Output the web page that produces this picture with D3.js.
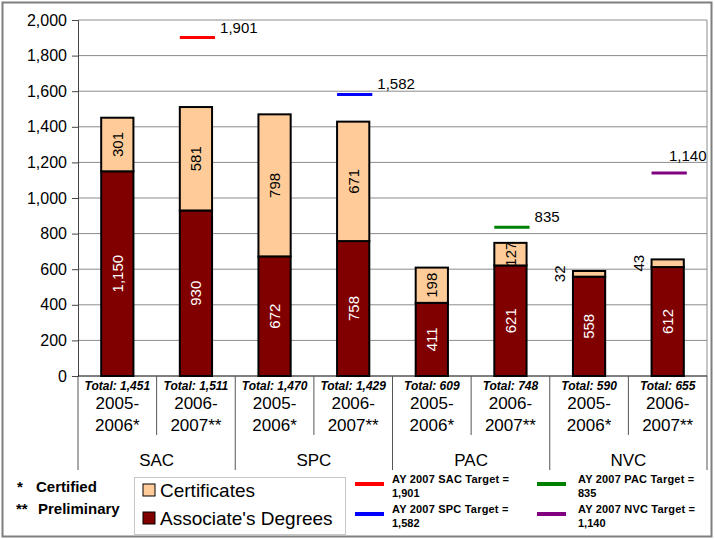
<!DOCTYPE html>
<html>
<head>
<meta charset="utf-8">
<script src="https://cdn.jsdelivr.net/npm/d3@7"></script>
<style>
  body { margin: 0; background: #fff; }
  svg { font-family: "Liberation Sans", Arial, sans-serif; }
</style>
</head>
<body>
<svg id="chart" width="715" height="539"></svg>
<script>
// data
const colleges = ["SAC", "SPC", "PAC", "NVC"];
const years = [["2005-", "2006*"], ["2006-", "2007**"]];
const associates = [1150, 930, 672, 758, 411, 621, 558, 612];
const certificates = [301, 581, 798, 671, 198, 127, 32, 43];
const totals = [1451, 1511, 1470, 1429, 609, 748, 590, 655];
const targets = [1901, 1582, 835, 1140];
const targetColors = ["#ff0000", "#0000ff", "#008000", "#800080"];
const yTicks = [0, 200, 400, 600, 800, 1000, 1200, 1400, 1600, 1800, 2000];

const svg = d3.select("#chart");
const fmt = d3.format(",");

const plotL = 78, plotR = 707, plotT = 20, plotB = 376;

const keys = d3.range(associates.length);
const x = d3.scaleBand().domain(keys).range([plotL, plotR])
    .paddingInner(0.59).paddingOuter(0.295);
const cell = d3.scaleBand().domain(keys).range([plotL, plotR]);
const y = d3.scaleLinear().domain([0, 2000]).range([plotB, plotT]);

// outer frame
svg.append("rect")
    .attr("x", 2.5).attr("y", 2.5).attr("width", 709).attr("height", 534)
    .attr("fill", "none").attr("stroke", "#7f7f7f").attr("stroke-width", 2);

// gridlines
svg.append("g")
    .selectAll("line")
    .data(yTicks.filter(d => d > 0))
    .join("line")
    .attr("x1", plotL).attr("x2", plotR)
    .attr("y1", d => y(d)).attr("y2", d => y(d))
    .attr("stroke", "#8c8c8c").attr("stroke-width", 1);

svg.append("line")
    .attr("x1", plotR).attr("x2", plotR).attr("y1", plotT).attr("y2", plotB)
    .attr("stroke", "#8c8c8c");

// y axis
const yAxis = svg.append("g")
    .attr("transform", `translate(${plotL},0)`)
    .call(d3.axisLeft(y).tickValues(yTicks).tickFormat(fmt).tickSize(6).tickPadding(5));
yAxis.select(".domain").attr("stroke", "#444");
yAxis.selectAll(".tick line").attr("stroke", "#444");
yAxis.selectAll(".tick text")
    .attr("font-size", 16).attr("fill", "#000")
    .attr("font-family", "Liberation Sans, Arial, sans-serif");

// stacked bars
const bars = svg.append("g");
bars.selectAll("rect.assoc")
    .data(keys)
    .join("rect")
    .attr("class", "assoc")
    .attr("x", i => x(i)).attr("width", x.bandwidth())
    .attr("y", i => y(associates[i]))
    .attr("height", i => y(0) - y(associates[i]))
    .attr("fill", "#800000").attr("stroke", "#000").attr("stroke-width", 2);

bars.selectAll("rect.cert")
    .data(keys)
    .join("rect")
    .attr("class", "cert")
    .attr("x", i => x(i)).attr("width", x.bandwidth())
    .attr("y", i => y(associates[i] + certificates[i]))
    .attr("height", i => y(associates[i]) - y(associates[i] + certificates[i]))
    .attr("fill", "#ffcc99").attr("stroke", "#000").attr("stroke-width", 2);

// value labels, rotated
const labels = svg.append("g").attr("font-size", 15);
labels.selectAll("text.assoc")
    .data(keys)
    .join("text")
    .attr("class", "assoc")
    .attr("transform", i => `translate(${x(i) + x.bandwidth() / 2},${y(associates[i] / 2)}) rotate(-90)`)
    .attr("text-anchor", "middle").attr("dy", "0.36em")
    .attr("fill", "#fff")
    .text(i => fmt(associates[i]));

labels.selectAll("text.cert")
    .data(keys)
    .join("text")
    .attr("class", "cert")
    .attr("transform", i => {
        const small = certificates[i] < 60;
        const cx = small ? x(i) - 13 : x(i) + x.bandwidth() / 2;
        return `translate(${cx},${y(associates[i] + certificates[i] / 2)}) rotate(-90)`;
    })
    .attr("text-anchor", "middle").attr("dy", "0.36em")
    .attr("fill", "#000")
    .text(i => fmt(certificates[i]));

// target markers
const tg = svg.append("g");
targets.forEach((t, k) => {
    const i = k * 2 + 1;
    const x0 = x(i), x1 = x(i) + x.bandwidth() + 3;
    tg.append("line")
        .attr("x1", x0).attr("x2", x1)
        .attr("y1", y(t)).attr("y2", y(t))
        .attr("stroke", targetColors[k]).attr("stroke-width", 3);
    const lx = Math.min(x1 + 5, plotR - 38);
    tg.append("text")
        .attr("x", lx).attr("y", y(t) - (lx < x1 ? 12 : 5))
        .attr("font-size", 15)
        .text(fmt(t));
});

// category table below the axis
svg.append("line")
    .attr("x1", plotL).attr("x2", plotR).attr("y1", plotB).attr("y2", plotB)
    .attr("stroke", "#000");

const table = svg.append("g").attr("stroke", "#555");
keys.filter(i => i % 2 === 1).forEach(i => {
    table.append("line")
        .attr("x1", cell(i)).attr("x2", cell(i))
        .attr("y1", plotB).attr("y2", 435);
});
d3.range(colleges.length + 1).forEach(k => {
    const xx = k < colleges.length ? cell(k * 2) : plotR;
    table.append("line")
        .attr("x1", xx).attr("x2", xx)
        .attr("y1", plotB).attr("y2", 470);
});

const cats = svg.append("g").attr("text-anchor", "middle");
cats.selectAll("text.total")
    .data(keys)
    .join("text")
    .attr("class", "total")
    .attr("x", i => cell(i) + cell.bandwidth() / 2)
    .attr("y", 389.5)
    .attr("font-size", 12).attr("font-weight", "bold").attr("font-style", "italic")
    .text(i => "Total: " + fmt(totals[i]));

keys.forEach(i => {
    const cx = cell(i) + cell.bandwidth() / 2;
    cats.append("text").attr("x", cx).attr("y", 409).attr("font-size", 17)
        .text(years[i % 2][0]);
    cats.append("text").attr("x", cx).attr("y", 431).attr("font-size", 17)
        .text(years[i % 2][1]);
});

cats.selectAll("text.college")
    .data(colleges)
    .join("text")
    .attr("class", "college")
    .attr("x", (d, k) => cell(k * 2) + cell.bandwidth())
    .attr("y", 466)
    .attr("font-size", 17)
    .text(d => d);

// footnotes
const notes = svg.append("g").attr("font-size", 15).attr("font-weight", "bold");
notes.append("text").attr("x", 17).attr("y", 492).text("*");
notes.append("text").attr("x", 36).attr("y", 492).text("Certified");
notes.append("text").attr("x", 16).attr("y", 514).text("**");
notes.append("text").attr("x", 38).attr("y", 514).text("Preliminary");

// series legend
const lg = svg.append("g");
lg.append("rect")
    .attr("x", 134.5).attr("y", 477.5).attr("width", 211).attr("height", 57)
    .attr("fill", "#fff").attr("stroke", "#c8c8c8");
const series = [["Certificates", "#ffcc99"], ["Associate's Degrees", "#800000"]];
series.forEach(([name, col], k) => {
    lg.append("rect")
        .attr("x", 143).attr("y", 484 + k * 28).attr("width", 12).attr("height", 12)
        .attr("fill", col).attr("stroke", "#000");
    lg.append("text")
        .attr("x", 160).attr("y", 497 + k * 28)
        .attr("font-size", 19)
        .text(name);
});

// target legend, two columns of two
const tl = svg.append("g").attr("font-size", 11).attr("font-weight", "bold");
targets.forEach((t, k) => {
    const colIdx = k < 2 ? 0 : 1;
    const row = k % 2;
    const lx = [355, 537][colIdx];
    const tx = [392, 578][colIdx];
    tl.append("line")
        .attr("x1", lx).attr("x2", lx + 29)
        .attr("y1", 484 + row * 30).attr("y2", 484 + row * 30)
        .attr("stroke", targetColors[k]).attr("stroke-width", 4);
    tl.append("text")
        .attr("x", tx).attr("y", 483 + row * 30)
        .attr("letter-spacing", 0.2)
        .text(`AY 2007 ${colleges[k]} Target =`);
    tl.append("text")
        .attr("x", tx).attr("y", 497 + row * 30)
        .text(fmt(t));
});
</script>
</body>
</html>
